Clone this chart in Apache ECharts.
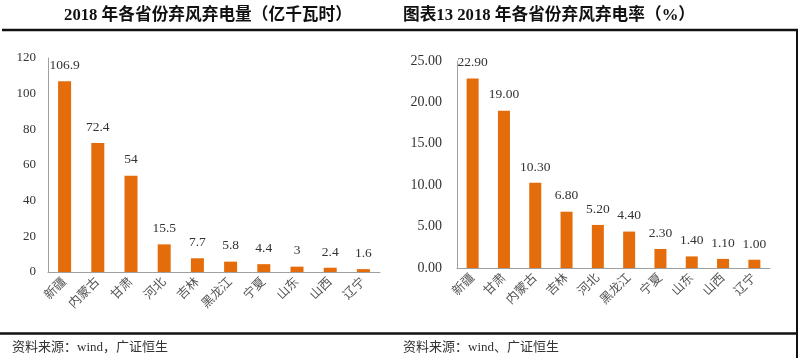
<!DOCTYPE html>
<html><head><meta charset="utf-8">
<script src="https://cdn.jsdelivr.net/npm/echarts@6/dist/echarts.min.js"></script>
<style>html,body{margin:0;padding:0;background:#fff}#c{width:800px;height:358px}</style>
</head><body><div id="c"></div>
<script>
var leftTitle = '2018 年各省份弃风弃电量（亿千瓦时）';
var rightTitle = '图表13 2018 年各省份弃风弃电率（%）';
var leftCats = ['新疆','内蒙古','甘肃','河北','吉林','黑龙江','宁夏','山东','山西','辽宁'];
var leftVals = [106.9, 72.4, 54, 15.5, 7.7, 5.8, 4.4, 3, 2.4, 1.6];
var rightCats = ['新疆','甘肃','内蒙古','吉林','河北','黑龙江','宁夏','山东','山西','辽宁'];
var rightVals = [22.90, 19.00, 10.30, 6.80, 5.20, 4.40, 2.30, 1.40, 1.10, 1.00];
var leftSource = '资料来源：wind，广证恒生';
var rightSource = '资料来源：wind、广证恒生';

var FONT = '"Liberation Serif","Noto Sans CJK SC",serif';
var BAR = '#E46C0A';
var chart = echarts.init(document.getElementById('c'));
function catAxis(idx, cats){
  return {type:'category', gridIndex:idx, data:cats,
    axisLine:{lineStyle:{color:'#a0a0a0'}}, axisTick:{show:false},
    axisLabel:{rotate:45, color:'#555', fontSize:12.5, fontFamily:FONT, margin:8, interval:0}};
}
chart.setOption({
  animation:false,
  grid:[{left:48, top:58, width:332, height:214},{left:457, top:61, width:313, height:207}],
  xAxis:[catAxis(0,leftCats), catAxis(1,rightCats)],
  yAxis:[
    {type:'value', gridIndex:0, min:0, max:120, interval:20,
     axisLine:{show:true, lineStyle:{color:'#a0a0a0'}}, axisTick:{show:false}, splitLine:{show:false},
     axisLabel:{color:'#333', fontSize:13, fontFamily:FONT, margin:12}},
    {type:'value', gridIndex:1, min:0, max:25, interval:5,
     axisLine:{show:true, lineStyle:{color:'#a0a0a0'}}, axisTick:{show:false}, splitLine:{show:false},
     axisLabel:{color:'#333', fontSize:14, fontFamily:FONT, margin:15, formatter:function(v){return v.toFixed(2);}}}
  ],
  series:[
    {type:'bar', xAxisIndex:0, yAxisIndex:0, data:leftVals, barWidth:13, itemStyle:{color:BAR},
     label:{show:true, position:'top', distance:9, color:'#333', fontSize:13.5, fontFamily:FONT}},
    {type:'bar', xAxisIndex:1, yAxisIndex:1, data:rightVals, barWidth:12, itemStyle:{color:BAR},
     label:{show:true, position:'top', distance:9, color:'#333', fontSize:13.5, fontFamily:FONT,
       formatter:function(p){return p.value.toFixed(2);}}}
  ],
  graphic:[
    {type:'text', style:{text:leftTitle, x:208, y:16, align:'center', verticalAlign:'middle',
      font:'bold 16.7px '+FONT, fill:'#111'}},
    {type:'text', style:{text:rightTitle, x:403, y:16, align:'left', verticalAlign:'middle',
      font:'bold 16.7px '+FONT, fill:'#111'}},
    {type:'line', shape:{x1:2, y1:30, x2:798, y2:30}, style:{stroke:'#111', lineWidth:2.5}},
    {type:'line', shape:{x1:797, y1:30, x2:797, y2:358}, style:{stroke:'#111', lineWidth:2}},
    {type:'line', shape:{x1:0, y1:333.5, x2:797, y2:333.5}, style:{stroke:'#111', lineWidth:2.5}},
    {type:'text', style:{text:leftSource, x:12, y:348, align:'left', verticalAlign:'middle',
      font:'13px '+FONT, fill:'#333'}},
    {type:'text', style:{text:rightSource, x:403, y:348, align:'left', verticalAlign:'middle',
      font:'13px '+FONT, fill:'#333'}}
  ]
});
</script></body></html>
